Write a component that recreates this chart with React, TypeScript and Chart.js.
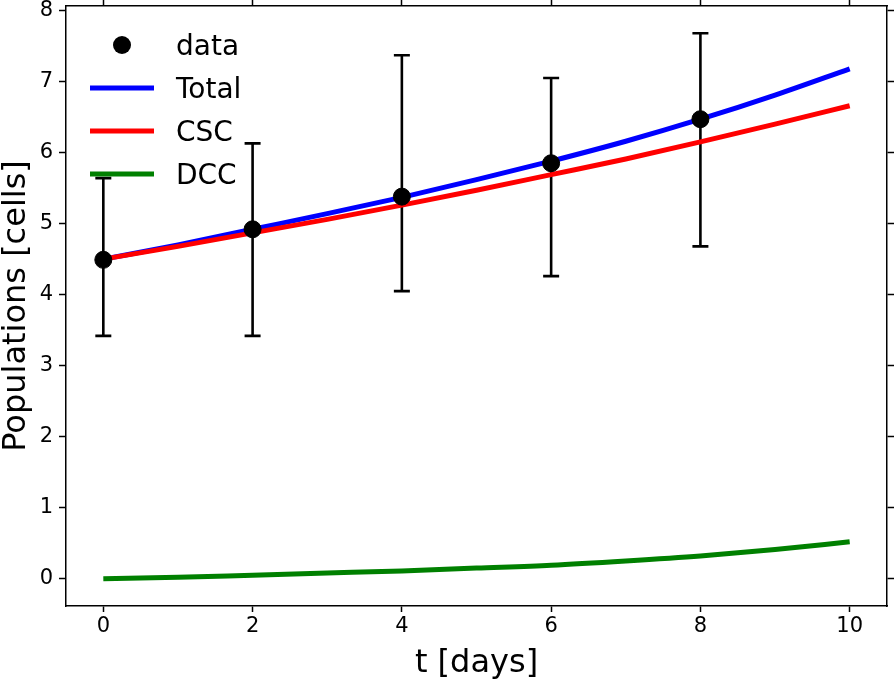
import React, { useEffect, useRef } from "react";
import { Chart, registerables } from "chart.js";

Chart.register(...registerables);

const days = [0, 1, 2, 3, 4, 5, 6, 7, 8, 9, 10];
const totalCells = [4.5, 4.7, 4.92, 5.14, 5.37, 5.62, 5.88, 6.16, 6.47, 6.81, 7.18];
const cscCells = [4.5, 4.68, 4.87, 5.06, 5.26, 5.47, 5.69, 5.91, 6.15, 6.4, 6.66];
const dccCells = [0.0, 0.02, 0.05, 0.08, 0.11, 0.15, 0.19, 0.25, 0.32, 0.41, 0.52];

const dataDays = [0, 2, 4, 6, 8];
const dataMean = [4.49, 4.92, 5.38, 5.85, 6.47];
const dataLow = [3.42, 3.42, 4.05, 4.26, 4.68];
const dataHigh = [5.64, 6.13, 7.37, 7.05, 7.68];

const xTicks = [0, 2, 4, 6, 8, 10];
const yTicks = [0, 1, 2, 3, 4, 5, 6, 7, 8];

const FONT = "'DejaVu Sans', sans-serif";

const errorBarPlugin = {
  id: "errorBars",
  beforeDatasetsDraw(chart: any) {
    const ctx = chart.ctx;
    const xs = chart.scales.x;
    const ys = chart.scales.y;
    ctx.save();
    ctx.strokeStyle = "#000";
    ctx.lineWidth = 2.6;
    for (let i = 0; i < dataDays.length; i++) {
      const px = xs.getPixelForValue(dataDays[i]);
      const pLo = ys.getPixelForValue(dataLow[i]);
      const pHi = ys.getPixelForValue(dataHigh[i]);
      ctx.beginPath();
      ctx.moveTo(px, pLo);
      ctx.lineTo(px, pHi);
      ctx.moveTo(px - 8, pLo);
      ctx.lineTo(px + 8, pLo);
      ctx.moveTo(px - 8, pHi);
      ctx.lineTo(px + 8, pHi);
      ctx.stroke();
    }
    ctx.restore();
  },
};

const legendPlugin = {
  id: "mplLegend",
  afterDatasetsDraw(chart: any) {
    const ctx = chart.ctx;
    const area = chart.chartArea;
    const ds = chart.data.datasets;
    const order = [0, 1, 2, 3];
    ctx.save();
    ctx.font = `28px ${FONT}`;
    ctx.textAlign = "left";
    ctx.textBaseline = "alphabetic";
    order.forEach((idx, row) => {
      const d = ds[idx];
      const baseY = area.top + 49 + row * 43;
      const midY = baseY - 10;
      const hx0 = area.left + 24;
      const hx1 = area.left + 88;
      if (idx === 0) {
        ctx.fillStyle = d.backgroundColor;
        ctx.beginPath();
        ctx.arc((hx0 + hx1) / 2, midY, 9, 0, Math.PI * 2);
        ctx.fill();
      } else {
        ctx.strokeStyle = d.borderColor;
        ctx.lineWidth = 5;
        ctx.beginPath();
        ctx.moveTo(hx0, midY);
        ctx.lineTo(hx1, midY);
        ctx.stroke();
      }
      ctx.fillStyle = "#000";
      ctx.fillText(d.label, area.left + 110, baseY);
    });
    ctx.restore();
  },
};

const zeroPad = (s: any) => {
  s.paddingTop = 0;
  s.paddingBottom = 0;
  s.paddingLeft = 0;
  s.paddingRight = 0;
};

export default function App() {
  const ref = useRef<HTMLCanvasElement | null>(null);

  useEffect(() => {
    document.body.style.margin = "0";
    const canvas = ref.current;
    if (!canvas) return;
    const tickCommon = {
      color: "#000",
      font: { family: FONT, size: 21 },
    };
    const chart = new Chart(canvas, {
      type: "line",
      data: {
        datasets: [
          {
            type: "scatter",
            label: "data",
            data: dataDays.map((d, i) => ({ x: d, y: dataMean[i] })),
            backgroundColor: "#000",
            borderColor: "#000",
            pointRadius: 8.5,
            pointHoverRadius: 8.5,
            showLine: false,
            order: 0,
          } as any,
          {
            label: "Total",
            data: days.map((d, i) => ({ x: d, y: totalCells[i] })),
            borderColor: "#0000ff",
            backgroundColor: "#0000ff",
            borderWidth: 5,
            pointRadius: 0,
            cubicInterpolationMode: "monotone",
            order: 2,
          },
          {
            label: "CSC",
            data: days.map((d, i) => ({ x: d, y: cscCells[i] })),
            borderColor: "#ff0000",
            backgroundColor: "#ff0000",
            borderWidth: 5,
            pointRadius: 0,
            cubicInterpolationMode: "monotone",
            order: 1,
          },
          {
            label: "DCC",
            data: days.map((d, i) => ({ x: d, y: dccCells[i] })),
            borderColor: "#008000",
            backgroundColor: "#008000",
            borderWidth: 5,
            pointRadius: 0,
            cubicInterpolationMode: "monotone",
            order: 3,
          },
        ],
      },
      options: {
        animation: false,
        responsive: false,
        maintainAspectRatio: false,
        layout: { padding: 0, autoPadding: false },
        plugins: {
          legend: { display: false },
          tooltip: { enabled: false },
        },
        scales: {
          x: {
            type: "linear",
            position: "bottom",
            min: -0.5,
            max: 10.5,
            afterBuildTicks: (s: any) => {
              s.ticks = xTicks.map((v) => ({ value: v }));
            },
            afterFit: (s: any) => {
              s.height = 74;
              zeroPad(s);
            },
            ticks: { ...tickCommon, padding: 2, maxRotation: 0, callback: (v: any) => String(v) },
            grid: { drawOnChartArea: false, drawTicks: true, tickLength: 6, tickWidth: 1.5, tickColor: "#000" },
            border: { display: true, color: "#000", width: 1.5 },
            title: {
              display: true,
              text: "t [days]",
              color: "#000",
              font: { family: FONT, size: 32 },
              padding: { top: 0, bottom: -3 },
            },
          },
          xTop: {
            type: "linear",
            position: "top",
            min: -0.5,
            max: 10.5,
            afterBuildTicks: (s: any) => {
              s.ticks = xTicks.map((v) => ({ value: v }));
            },
            afterFit: (s: any) => {
              s.height = 6;
              zeroPad(s);
            },
            ticks: { display: false },
            grid: { drawOnChartArea: false, drawTicks: true, tickLength: 6, tickWidth: 1.5, tickColor: "#000" },
            border: { display: true, color: "#000", width: 1.5 },
          },
          y: {
            type: "linear",
            position: "left",
            min: -0.384,
            max: 8.064,
            afterBuildTicks: (s: any) => {
              s.ticks = yTicks.map((v) => ({ value: v }));
            },
            afterFit: (s: any) => {
              s.width = 66;
              zeroPad(s);
            },
            ticks: { ...tickCommon, padding: 6, callback: (v: any) => String(v) },
            grid: { drawOnChartArea: false, drawTicks: true, tickLength: 7, tickWidth: 1.5, tickColor: "#000" },
            border: { display: true, color: "#000", width: 1.5 },
            title: {
              display: true,
              text: "Populations [cells]",
              color: "#000",
              font: { family: FONT, size: 32 },
              padding: { top: -3, bottom: 0 },
            },
          },
          yRight: {
            type: "linear",
            position: "right",
            min: -0.384,
            max: 8.064,
            afterBuildTicks: (s: any) => {
              s.ticks = yTicks.map((v) => ({ value: v }));
            },
            afterFit: (s: any) => {
              s.width = 7;
              zeroPad(s);
            },
            ticks: { display: false },
            grid: { drawOnChartArea: false, drawTicks: true, tickLength: 7, tickWidth: 1.5, tickColor: "#000" },
            border: { display: true, color: "#000", width: 1.5 },
          },
        },
      } as any,
      plugins: [errorBarPlugin, legendPlugin],
    });
    return () => chart.destroy();
  }, []);

  return (
    <div style={{ width: 894, height: 680, background: "#fff" }}>
      <canvas ref={ref} width={894} height={680} style={{ display: "block", width: 894, height: 680 }} />
    </div>
  );
}
